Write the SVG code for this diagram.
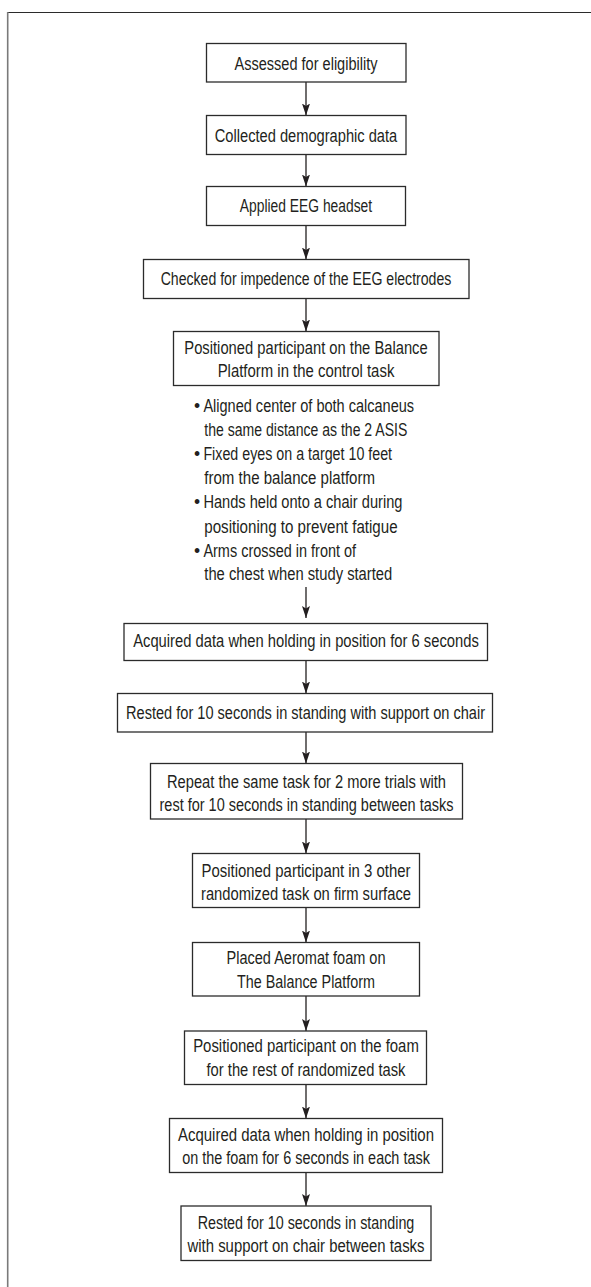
<svg xmlns="http://www.w3.org/2000/svg" width="591" height="1287" viewBox="0 0 591 1287">
<style>
.box{fill:#fff;stroke:#2b2b2b;stroke-width:1.3}
.t{font-family:"Liberation Sans Narrow","Liberation Sans",Arial,sans-serif;font-size:17.5px;fill:#231f20;text-anchor:middle}
.b{font-family:"Liberation Sans Narrow","Liberation Sans",Arial,sans-serif;font-size:17.5px;fill:#231f20}
.c{stroke:#231f20;stroke-width:1.3;fill:none;marker-end:url(#ah)}
</style>
<defs>
<marker id="ah" markerUnits="userSpaceOnUse" viewBox="0 0 12 8" refX="12" refY="4" markerWidth="12" markerHeight="8" orient="auto">
<path d="M0,0 L12,4 L0,8 L2.5,4 Z" fill="#231f20"/>
</marker>
</defs>
<rect width="591" height="1287" fill="#fff"/>
<g id="frame">
<line x1="7" y1="12.5" x2="591" y2="12.5" stroke="#2b2b2b" stroke-width="1.2"/>
<line x1="7.7" y1="12" x2="7.7" y2="1287" stroke="#7a7a7a" stroke-width="1.6"/>
</g>
<g id="connectors">
<line class="c" x1="306" y1="82" x2="306" y2="115.5"/>
<line class="c" x1="306" y1="154.5" x2="306" y2="186.5"/>
<line class="c" x1="306" y1="225.5" x2="306" y2="259.5"/>
<line class="c" x1="306" y1="298.5" x2="306" y2="331.5"/>
<line class="c" x1="306" y1="587" x2="306" y2="618"/>
<line class="c" x1="306" y1="660.5" x2="306" y2="693.5"/>
<line class="c" x1="306" y1="732" x2="306" y2="763.5"/>
<line class="c" x1="306" y1="819" x2="306" y2="853.5"/>
<line class="c" x1="306" y1="907.5" x2="306" y2="942.5"/>
<line class="c" x1="306" y1="996" x2="306" y2="1031"/>
<line class="c" x1="306" y1="1084.5" x2="306" y2="1118.5"/>
<line class="c" x1="306" y1="1172.5" x2="306" y2="1206"/>
</g>
<g id="n1">
<rect class="box" x="206.5" y="43.5" width="199.5" height="38.5"/>
<text class="t" x="306" y="70" textLength="143" lengthAdjust="spacingAndGlyphs">Assessed for eligibility</text>
</g>
<g id="n2">
<rect class="box" x="206.5" y="115.5" width="199.5" height="39"/>
<text class="t" x="306" y="141.7" textLength="182.5" lengthAdjust="spacingAndGlyphs">Collected demographic data</text>
</g>
<g id="n3">
<rect class="box" x="206.5" y="186.5" width="199" height="39"/>
<text class="t" x="306" y="212.3" textLength="132.3" lengthAdjust="spacingAndGlyphs">Applied EEG headset</text>
</g>
<g id="n4">
<rect class="box" x="143.5" y="259.5" width="325.5" height="39"/>
<text class="t" x="306" y="285.3" textLength="290.7" lengthAdjust="spacingAndGlyphs">Checked for impedence of the EEG electrodes</text>
</g>
<g id="n5">
<rect class="box" x="173.5" y="331.5" width="265.5" height="54"/>
<text class="t" x="306" y="354" textLength="243.3" lengthAdjust="spacingAndGlyphs">Positioned participant on the Balance</text>
<text class="t" x="306" y="376.7" textLength="176.7" lengthAdjust="spacingAndGlyphs">Platform in the control task</text>
</g>
<g id="bullets">
<text class="b" x="194" y="411.7">•</text>
<text class="b" x="203.4" y="411.7" textLength="210.7" lengthAdjust="spacingAndGlyphs">Aligned center of both calcaneus</text>
<text class="b" x="204.3" y="436" textLength="203" lengthAdjust="spacingAndGlyphs">the same distance as the 2 ASIS</text>
<text class="b" x="194" y="460">•</text>
<text class="b" x="203.4" y="460" textLength="188.7" lengthAdjust="spacingAndGlyphs">Fixed eyes on a target 10 feet</text>
<text class="b" x="204.3" y="484" textLength="170.7" lengthAdjust="spacingAndGlyphs">from the balance platform</text>
<text class="b" x="194" y="508">•</text>
<text class="b" x="203.4" y="508" textLength="199" lengthAdjust="spacingAndGlyphs">Hands held onto a chair during</text>
<text class="b" x="204.3" y="532.7" textLength="193.3" lengthAdjust="spacingAndGlyphs">positioning to prevent fatigue</text>
<text class="b" x="194" y="556.7">•</text>
<text class="b" x="203.4" y="556.7" textLength="152.7" lengthAdjust="spacingAndGlyphs">Arms crossed in front of</text>
<text class="b" x="204.3" y="580" textLength="188" lengthAdjust="spacingAndGlyphs">the chest when study started</text>
</g>
<g id="n6">
<rect class="box" x="124" y="623.5" width="363.5" height="37"/>
<text class="t" x="306" y="647.3" textLength="345.7" lengthAdjust="spacingAndGlyphs">Acquired data when holding in position for 6 seconds</text>
</g>
<g id="n7">
<rect class="box" x="117.5" y="693.5" width="375" height="38.5"/>
<text class="t" x="305.5" y="719" textLength="359" lengthAdjust="spacingAndGlyphs">Rested for 10 seconds in standing with support on chair</text>
</g>
<g id="n8">
<rect class="box" x="150.5" y="763.5" width="312" height="55.5"/>
<text class="t" x="306.5" y="787.7" textLength="279" lengthAdjust="spacingAndGlyphs">Repeat the same task for 2 more trials with</text>
<text class="t" x="306.5" y="810.7" textLength="294" lengthAdjust="spacingAndGlyphs">rest for 10 seconds in standing between tasks</text>
</g>
<g id="n9">
<rect class="box" x="192.5" y="853.5" width="227" height="54"/>
<text class="t" x="306" y="877.3" textLength="209" lengthAdjust="spacingAndGlyphs">Positioned participant in 3 other</text>
<text class="t" x="306" y="900" textLength="210" lengthAdjust="spacingAndGlyphs">randomized task on firm surface</text>
</g>
<g id="n10">
<rect class="box" x="192.5" y="942.5" width="227" height="53.5"/>
<text class="t" x="306" y="964" textLength="159" lengthAdjust="spacingAndGlyphs">Placed Aeromat foam on</text>
<text class="t" x="306" y="987.7" textLength="138" lengthAdjust="spacingAndGlyphs">The Balance Platform</text>
</g>
<g id="n11">
<rect class="box" x="184.5" y="1031" width="242" height="53.5"/>
<text class="t" x="306" y="1052.3" textLength="225.7" lengthAdjust="spacingAndGlyphs">Positioned participant on the foam</text>
<text class="t" x="306" y="1075.7" textLength="199" lengthAdjust="spacingAndGlyphs">for the rest of randomized task</text>
</g>
<g id="n12">
<rect class="box" x="169.5" y="1118.5" width="273" height="54"/>
<text class="t" x="306" y="1141" textLength="256" lengthAdjust="spacingAndGlyphs">Acquired data when holding in position</text>
<text class="t" x="306" y="1164.3" textLength="247.7" lengthAdjust="spacingAndGlyphs">on the foam for 6 seconds in each task</text>
</g>
<g id="n13">
<rect class="box" x="181" y="1206" width="250" height="54.5"/>
<text class="t" x="306" y="1229" textLength="216.7" lengthAdjust="spacingAndGlyphs">Rested for 10 seconds in standing</text>
<text class="t" x="306" y="1252.3" textLength="237" lengthAdjust="spacingAndGlyphs">with support on chair between tasks</text>
</g>
</svg>
